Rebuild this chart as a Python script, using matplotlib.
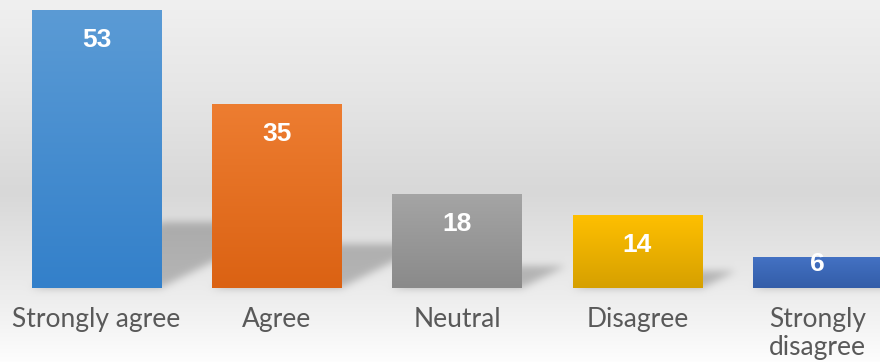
import numpy as np
import matplotlib
matplotlib.use('Agg')
import matplotlib.pyplot as plt
from matplotlib.colors import to_rgb

categories = ['Strongly agree', 'Agree', 'Neutral', 'Disagree', 'Strongly\ndisagree']
values = [53, 35, 18, 14, 6]
top_colors = ['#5b9bd5', '#ed7d31', '#a5a5a5', '#ffc000', '#4472c4']
bottom_colors = ['#3380ca', '#db6213', '#8a8a8a', '#d6a000', '#335da8']

W, H = 880, 362
BASE = 74  # baseline pixels from bottom
fig = plt.figure(figsize=(W / 100, H / 100), dpi=100)
bg_ax = fig.add_axes([0, 0, 1, 1], zorder=0)
bg_ax.set_axis_off()
ax = fig.add_axes([0, BASE / H, 1, 1 - BASE / H], zorder=1)
ax.patch.set_alpha(0)
ax.set_xlim(-0.5354, 4.3467)
ax.set_ylim(0, 54.86)
for s in ax.spines.values():
    s.set_visible(False)
ax.set_yticks([])

x = np.arange(len(values))
bars = ax.bar(x, values, width=0.716, color='none', edgecolor='none', zorder=2)

# background gradient
rows = np.linspace(0, 1, H)
stops_y = [0.0, 0.25, 0.53, 0.83, 1.0]
stops_v = [240, 230, 216, 238, 253]
vert = np.interp(rows, stops_y, stops_v) / 255.0
bg = np.repeat(vert[:, None], W, axis=1)

# shadows (perspective, up-right) computed from bar geometry in pixel space
mask = np.zeros((H, W))
k = 2.0
for p in bars.patches:
    (px0, py0), (px1, py1) = ax.transData.transform([(p.get_x(), 0), (p.get_x() + p.get_width(), p.get_height())])
    h = py1 - py0
    hs = 0.24 * h
    row_b = H - py0
    for t in range(int(hs)):
        r = int(round(row_b - t - 1))
        if 0 <= r < H:
            a = int(max(0, round(px0 + k * t)))
            b = int(min(W, round(px1 + k * t)))
            if b > a:
                mask[r, a:b] = 1.0

def blur(arr, sigma):
    rad = int(3 * sigma)
    kx = np.exp(-0.5 * (np.arange(-rad, rad + 1) / sigma) ** 2)
    kx /= kx.sum()
    pad = np.pad(arr, rad, mode='edge')
    tmp = np.apply_along_axis(lambda m: np.convolve(m, kx, mode='valid'), 1, pad)
    out = np.apply_along_axis(lambda m: np.convolve(m, kx, mode='valid'), 0, tmp)
    return out

mask = blur(mask, 4.0)
img = bg * (1 - 0.23 * mask)
bg_ax.imshow(np.dstack([img, img, img]), extent=(0, 1, 0, 1), aspect='auto', origin='upper',
             interpolation='bilinear')
bg_ax.set_xlim(0, 1)
bg_ax.set_ylim(0, 1)

# gradient bars
grad = np.linspace(0, 1, 256)[:, None, None]
for p, tc, bc in zip(bars.patches, top_colors, bottom_colors):
    c = (1 - grad) * np.array(to_rgb(tc)) + grad * np.array(to_rgb(bc))
    im = ax.imshow(c, extent=(p.get_x(), p.get_x() + p.get_width(), 0, p.get_height()),
                   aspect='auto', origin='upper', zorder=2, interpolation='bilinear')
    im.set_clip_path(p)
ax.set_xlim(-0.5354, 4.3467)
ax.set_ylim(0, 54.86)

# value labels
py_per_unit = ax.transData.transform((0, 1))[1] - ax.transData.transform((0, 0))[1]
for xi, v in zip(x, values):
    hpx = v * py_per_unit
    off = min(30, hpx - 24)
    ax.annotate(str(v), xy=(xi, v), xytext=(0, -off * 0.72), textcoords='offset points',
                ha='center', va='center', color='white', fontweight='bold', fontsize=19,
                family='Liberation Sans', zorder=3)

ax.set_xticks(x, categories)
ax.tick_params(axis='x', length=0, pad=13.5, labelsize=19, labelcolor='#595959')
for lab in ax.get_xticklabels():
    lab.set_family('Lato')
    lab.set_linespacing(1.18)

fig.savefig('out.png', dpi=100)
